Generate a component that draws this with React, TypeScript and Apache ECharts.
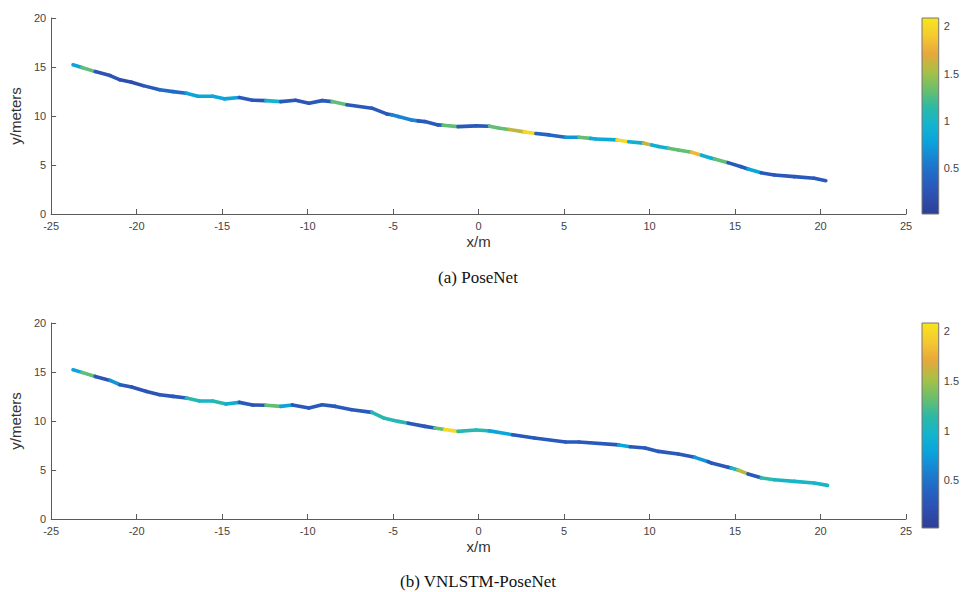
import React, { useEffect, useRef } from "react";
import * as echarts from "echarts";

// ---- Data ----
// (a) PoseNet trajectory: x, y (meters) and error value at each point
const topX = [-23.72, -23.2, -22.42, -21.55, -20.97, -20.29, -19.62, -18.65, -17.87, -17.09, -16.42, -15.55, -14.87, -13.99, -13.22, -12.44, -11.57, -10.7, -9.92, -9.15, -8.57, -7.7, -6.24, -5.37, -5.08, -4.69, -3.92, -3.53, -3.14, -2.37, -2.08, -1.2, -0.14, 0.64, 1.22, 1.8, 2.67, 3.35, 4.13, 5.09, 5.87, 6.55, 6.84, 8.1, 8.78, 9.65, 10.13, 10.52, 11.1, 11.68, 12.46, 13.04, 13.62, 13.81, 14.59, 15.36, 15.76, 16.53, 17.3, 18.47, 19.63, 20.31];
const topY = [15.22, 14.95, 14.53, 14.13, 13.69, 13.45, 13.1, 12.67, 12.49, 12.33, 12.02, 12.02, 11.75, 11.88, 11.61, 11.57, 11.47, 11.61, 11.3, 11.57, 11.47, 11.15, 10.8, 10.21, 10.12, 9.94, 9.6, 9.5, 9.43, 9.09, 9.05, 8.92, 8.99, 8.96, 8.75, 8.62, 8.38, 8.22, 8.07, 7.83, 7.83, 7.72, 7.66, 7.56, 7.38, 7.23, 7.05, 6.88, 6.71, 6.54, 6.31, 6.0, 5.69, 5.62, 5.24, 4.83, 4.6, 4.2, 3.98, 3.81, 3.65, 3.4];
const topErr = [0.8, 1.3, 0.25, 0.25, 0.2, 0.2, 0.3, 0.45, 0.45, 0.8, 0.8, 0.8, 0.8, 0.3, 0.25, 0.95, 0.3, 0.25, 0.3, 0.3, 1.3, 0.3, 0.3, 0.3, 0.6, 0.6, 0.6, 0.3, 0.3, 0.3, 1.3, 0.3, 0.3, 1.3, 1.3, 1.6, 2.0, 0.4, 0.4, 0.7, 1.3, 0.85, 0.85, 2.0, 0.9, 1.6, 0.9, 0.9, 1.3, 1.3, 1.8, 0.9, 0.9, 1.3, 0.3, 0.3, 0.8, 0.3, 0.3, 0.3, 0.3, 0.3];

// (b) VNLSTM-PoseNet trajectory
const botX = [-23.72, -23.2, -22.42, -21.55, -20.97, -20.29, -19.42, -18.65, -17.87, -17.09, -16.32, -15.55, -14.77, -13.99, -13.22, -12.44, -11.57, -10.89, -9.92, -9.15, -8.37, -7.41, -6.24, -5.56, -4.69, -4.11, -3.14, -2.56, -1.98, -1.2, -0.14, 0.54, 0.64, 1.99, 3.26, 5.09, 5.87, 8.2, 8.87, 9.74, 10.52, 11.68, 12.65, 13.43, 13.62, 14.59, 14.78, 15.17, 15.76, 16.53, 17.3, 18.47, 19.63, 20.41];
const botY = [15.23, 14.96, 14.55, 14.14, 13.7, 13.47, 13.02, 12.68, 12.51, 12.35, 12.04, 12.04, 11.73, 11.9, 11.63, 11.6, 11.49, 11.64, 11.33, 11.66, 11.49, 11.15, 10.88, 10.31, 9.96, 9.78, 9.45, 9.28, 9.13, 8.94, 9.08, 9.01, 8.99, 8.6, 8.26, 7.86, 7.86, 7.56, 7.37, 7.24, 6.9, 6.63, 6.29, 5.85, 5.71, 5.27, 5.2, 5.0, 4.6, 4.2, 4.01, 3.84, 3.67, 3.43];
const botErr = [0.8, 1.3, 0.25, 0.7, 0.3, 0.25, 0.25, 0.3, 0.3, 1.1, 1.0, 1.1, 0.9, 0.3, 0.25, 1.3, 0.8, 0.3, 0.3, 0.3, 0.3, 0.3, 1.1, 1.1, 1.1, 0.3, 0.3, 1.3, 2.0, 1.1, 1.1, 1.05, 0.8, 0.3, 0.3, 0.3, 0.3, 0.8, 0.3, 0.3, 0.3, 0.3, 0.7, 0.3, 0.3, 0.3, 1.0, 1.55, 0.3, 1.15, 1.0, 1.0, 1.0, 1.0];

const errMin = 0.02;
const errMax = 2.085;
const colorbarTicks = [0.5, 1, 1.5, 2];
const captions = ["(a) PoseNet", "(b) VNLSTM-PoseNet"];
const xTitle = "x/m";
const yTitle = "y/meters";

const palette = ["#2e3f96", "#2d4fb0", "#2463c4", "#1a7fd0", "#0aa2dc", "#12b4cf", "#2cb9a6", "#6cbf6a", "#a9c046", "#e6a83b", "#f6c930", "#f7e51c"];

function segments(xs: number[], ys: number[], es: number[]) {
  const out: number[][] = [];
  for (let i = 0; i < xs.length - 1; i++) {
    out.push([xs[i], ys[i], xs[i + 1], ys[i + 1], es[i]]);
  }
  return out;
}

const AXIS_COLOR = "#5a5a5a";
const LABEL_COLOR = "#444";
const FONT = "Liberation Sans, Arial, sans-serif";

export default function App() {
  const ref = useRef<HTMLDivElement>(null);
  useEffect(() => {
    document.body.style.margin = "0";
    if (!ref.current) return;
    const chart = echarts.init(ref.current, undefined, { renderer: "svg" });

    const gradStops = palette
      .map((c, i) => ({ offset: 1 - i / (palette.length - 1), color: c }))
      .reverse();

    const plotX = (gi: number) => ({
      type: "value" as const,
      gridIndex: gi,
      min: -25,
      max: 25,
      interval: 5,
      name: xTitle,
      nameLocation: "middle" as const,
      nameGap: 20,
      nameTextStyle: { fontFamily: FONT, fontSize: 15, color: "#333" },
      axisLine: { onZero: false, lineStyle: { color: AXIS_COLOR, width: 1 } },
      axisTick: { inside: true, length: 5, lineStyle: { color: AXIS_COLOR } },
      axisLabel: { color: LABEL_COLOR, fontFamily: FONT, fontSize: 11, margin: 6 },
      splitLine: { show: false },
    });
    const plotY = (gi: number) => ({
      type: "value" as const,
      gridIndex: gi,
      min: 0,
      max: 20,
      interval: 5,
      name: yTitle,
      nameLocation: "middle" as const,
      nameGap: 20,
      nameTextStyle: { fontFamily: FONT, fontSize: 15, color: "#333" },
      axisLine: { show: true, onZero: false, lineStyle: { color: AXIS_COLOR, width: 1 } },
      axisTick: { show: true, inside: true, length: 5, lineStyle: { color: AXIS_COLOR } },
      axisLabel: { color: LABEL_COLOR, fontFamily: FONT, fontSize: 11, margin: 5 },
      splitLine: { show: false },
    });
    const cbX = (gi: number) => ({ type: "value" as const, gridIndex: gi, min: 0, max: 1, show: false });
    const cbY = (gi: number, mn: number, mx: number) => ({
      type: "value" as const,
      gridIndex: gi,
      min: mn,
      max: mx,
      position: "right" as const,
      axisLine: { show: false, onZero: false },
      axisTick: { show: true, inside: true, length: 3, customValues: colorbarTicks, lineStyle: { color: "#555" } },
      axisLabel: { show: true, customValues: colorbarTicks, color: LABEL_COLOR, fontFamily: FONT, fontSize: 11, margin: 5 },
      splitLine: { show: false },
    });

    const pathSeries = (gi: number, data: number[][]) => ({
      type: "custom" as const,
      xAxisIndex: gi,
      yAxisIndex: gi,
      data,
      encode: { x: [0, 2], y: [1, 3] },
      renderItem: (params: any, api: any) => {
        const p1 = api.coord([api.value(0), api.value(1)]);
        const p2 = api.coord([api.value(2), api.value(3)]);
        return {
          type: "line",
          shape: { x1: p1[0], y1: p1[1], x2: p2[0], y2: p2[1] },
          style: { stroke: api.visual("color"), lineWidth: 3.6, lineCap: "round" },
        };
      },
    });
    const barSeries = (gi: number, mn: number, mx: number) => ({
      type: "custom" as const,
      xAxisIndex: gi,
      yAxisIndex: gi,
      data: [[0, mn, 1, mx]],
      renderItem: (params: any, api: any) => {
        const a = api.coord([api.value(0), api.value(3)]);
        const b = api.coord([api.value(2), api.value(1)]);
        return {
          type: "rect",
          shape: { x: a[0], y: a[1], width: b[0] - a[0], height: b[1] - a[1] },
          style: {
            fill: new echarts.graphic.LinearGradient(0, 0, 0, 1, gradStops),
            stroke: "#777",
            lineWidth: 1,
          },
        };
      },
    });

    chart.setOption({
      animation: false,
      backgroundColor: "#ffffff",
      grid: [
        { left: 46, top: 18, width: 860, height: 196 },
        { left: 922, top: 18, width: 21, height: 196 },
        { left: 46, top: 323, width: 860, height: 196 },
        { left: 922, top: 323, width: 21, height: 205 },
      ],
      xAxis: [plotX(0), cbX(1), plotX(2), cbX(3)],
      yAxis: [plotY(0), cbY(1, errMin, errMax), plotY(2), cbY(3, errMin, errMax)],
      visualMap: [
        { type: "continuous", show: false, seriesIndex: 0, dimension: 4, min: errMin, max: errMax, inRange: { color: palette } },
        { type: "continuous", show: false, seriesIndex: 2, dimension: 4, min: errMin, max: errMax, inRange: { color: palette } },
      ],
      series: [
        pathSeries(0, segments(topX, topY, topErr)),
        barSeries(1, errMin, errMax),
        pathSeries(2, segments(botX, botY, botErr)),
        barSeries(3, errMin, errMax),
      ],
      graphic: [
        {
          type: "text",
          x: 478,
          y: 277,
          style: { text: captions[0], fontFamily: "Liberation Serif, Times New Roman, serif", fontSize: 17, fill: "#111", textAlign: "center", textVerticalAlign: "middle" },
        },
        {
          type: "text",
          x: 478,
          y: 581,
          style: { text: captions[1], fontFamily: "Liberation Serif, Times New Roman, serif", fontSize: 17, fill: "#111", textAlign: "center", textVerticalAlign: "middle" },
        },
      ],
    });
    return () => chart.dispose();
  }, []);
  return <div ref={ref} style={{ width: 962, height: 592 }} />;
}
